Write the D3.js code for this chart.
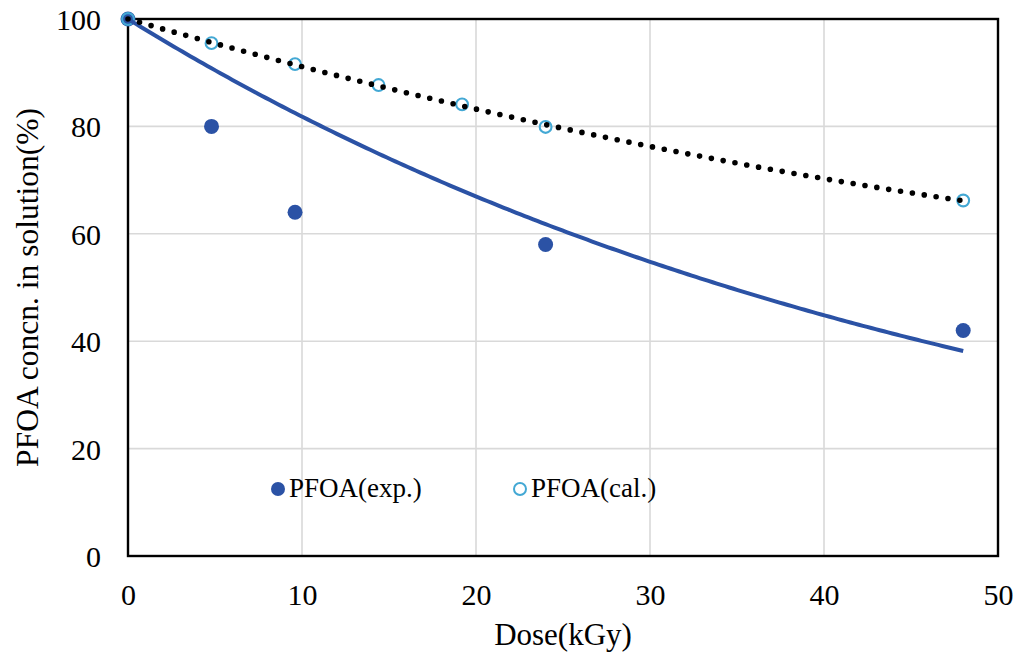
<!DOCTYPE html>
<html>
<head>
<meta charset="utf-8">
<script src="https://cdn.jsdelivr.net/npm/d3@7"></script>
<style>
  html, body { margin: 0; padding: 0; background: #fff; }
  svg { display: block; }
  text { font-family: "Liberation Serif", "Times New Roman", serif; fill: #000; }
</style>
</head>
<body>
<svg id="chart" width="1016" height="656"></svg>
<script>
// Dose (kGy) and remaining PFOA concentration (%)
const expDose = [0, 4.8, 9.6, 24, 48];
const expConc = [100, 80, 64, 58, 42];
const calDose = [0, 4.8, 9.6, 14.4, 19.2, 24, 48];
const calConc = [100, 95.5, 91.6, 87.7, 84.1, 79.9, 66.2];

const xTicks = [0, 10, 20, 30, 40, 50];
const yTicks = [0, 20, 40, 60, 80, 100];
const seriesNames = ["PFOA(exp.)", "PFOA(cal.)"];
const xTitle = "Dose(kGy)";
const yTitle = "PFOA concn. in solution(%)";

const plot = { left: 128, right: 998, top: 19, bottom: 556 };
const darkBlue = "#2b52a5";
const lightBlue = "#43a8d4";
const serif = '"Liberation Serif", "Times New Roman", serif';

const svg = d3.select("#chart");
const x = d3.scaleLinear().domain([0, 50]).range([plot.left, plot.right]);
const y = d3.scaleLinear().domain([0, 100]).range([plot.bottom, plot.top]);

// Trendline for experimental data: exponential with intercept fixed at 100
const expK = (() => {
  let num = 0, den = 0;
  expDose.forEach((d, i) => { num += d * Math.log(expConc[i] / 100); den += d * d; });
  return num / den;
})();
// Trendline for calculated data: 2nd-order polynomial with intercept fixed at 100
const calPoly = (() => {
  let s2 = 0, s3 = 0, s4 = 0, sd = 0, s2d = 0;
  calDose.forEach((d, i) => {
    const r = calConc[i] - 100;
    s2 += d * d; s3 += d ** 3; s4 += d ** 4; sd += d * r; s2d += d * d * r;
  });
  const det = s2 * s4 - s3 * s3;
  return { a: (sd * s4 - s3 * s2d) / det, b: (s2 * s2d - s3 * sd) / det };
})();
const doseMax = d3.max(expDose);
const fineDose = d3.range(0, doseMax + 1e-9, doseMax / 200);

// Gridlines
const grid = svg.append("g").attr("stroke", "#d9d9d9").attr("stroke-width", 1.6);
grid.selectAll("line.v").data(xTicks.filter(t => t > 0 && t < 50)).join("line")
  .attr("x1", d => x(d)).attr("x2", d => x(d)).attr("y1", plot.top).attr("y2", plot.bottom);
grid.selectAll("line.h").data(yTicks.filter(t => t > 0 && t < 100)).join("line")
  .attr("y1", d => y(d)).attr("y2", d => y(d)).attr("x1", plot.left).attr("x2", plot.right);

// Plot frame
svg.append("rect")
  .attr("x", plot.left).attr("y", plot.top)
  .attr("width", plot.right - plot.left).attr("height", plot.bottom - plot.top)
  .attr("fill", "none").attr("stroke", "#000").attr("stroke-width", 2.4);

// Axes (labels only)
const xAxis = svg.append("g").attr("transform", `translate(0,${plot.bottom})`)
  .call(d3.axisBottom(x).tickValues(xTicks).tickSize(0).tickPadding(0));
xAxis.attr("font-family", serif);
xAxis.select(".domain").remove();
xAxis.selectAll("text").attr("y", 49).attr("dy", null)
  .style("font-size", "30px").style("font-family", serif);

const yAxis = svg.append("g").attr("transform", `translate(${plot.left},0)`)
  .call(d3.axisLeft(y).tickValues(yTicks).tickSize(0).tickPadding(0));
yAxis.attr("font-family", serif);
yAxis.select(".domain").remove();
yAxis.selectAll("text").attr("x", -27).attr("dy", "0.35em")
  .style("font-size", "30px").style("font-family", serif);

// Axis titles
svg.append("text").attr("x", (plot.left + plot.right) / 2).attr("y", 645)
  .attr("text-anchor", "middle").style("font-size", "31px").text(xTitle);
svg.append("text")
  .attr("transform", `translate(38,${(plot.top + plot.bottom) / 2}) rotate(-90)`)
  .attr("text-anchor", "middle").style("font-size", "31.5px").text(yTitle);

// Markers
svg.append("g").selectAll("circle").data(expDose.map((d, i) => [d, expConc[i]])).join("circle")
  .attr("cx", d => x(d[0])).attr("cy", d => y(d[1])).attr("r", 7.5).attr("fill", darkBlue);
svg.append("g").selectAll("circle").data(calDose.map((d, i) => [d, calConc[i]])).join("circle")
  .attr("cx", d => x(d[0])).attr("cy", d => y(d[1])).attr("r", 5.9)
  .attr("fill", "none").attr("stroke", lightBlue).attr("stroke-width", 2.1);

// Trendlines
const line = d3.line().x(d => x(d[0])).y(d => y(d[1]));
svg.append("path")
  .datum(fineDose.map(d => [d, 100 * Math.exp(expK * d)]))
  .attr("d", line).attr("fill", "none").attr("stroke", darkBlue).attr("stroke-width", 4);
svg.append("path")
  .datum(fineDose.map(d => [d, 100 + calPoly.a * d + calPoly.b * d * d]))
  .attr("d", line).attr("fill", "none").attr("stroke", "#000").attr("stroke-width", 5.6)
  .attr("stroke-linecap", "round").attr("stroke-dasharray", "0 12");

// Legend
const legend = svg.append("g");
legend.append("circle").attr("cx", 278).attr("cy", 489).attr("r", 7).attr("fill", darkBlue);
legend.append("text").attr("x", 289).attr("y", 497).style("font-size", "27px").text(seriesNames[0]);
legend.append("circle").attr("cx", 520).attr("cy", 489).attr("r", 6)
  .attr("fill", "none").attr("stroke", lightBlue).attr("stroke-width", 2);
legend.append("text").attr("x", 531).attr("y", 497).style("font-size", "27px").text(seriesNames[1]);
</script>
</body>
</html>
